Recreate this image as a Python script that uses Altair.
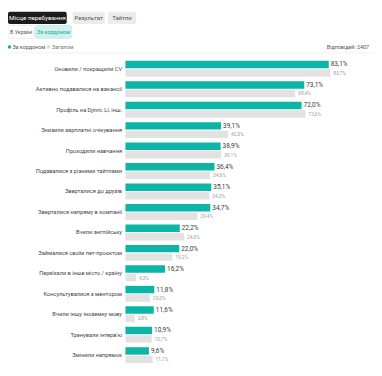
import altair as alt
import pandas as pd

categories = [
    "Оновили / покращили CV",
    "Активно подавалися на вакансії",
    "Профіль на Djinni, LI, інш.",
    "Знизили зарплатні очікування",
    "Проходили навчання",
    "Подавалися з різними тайтлами",
    "Зверталися до друзів",
    "Зверталися напряму в компанії",
    "Вчили англійську",
    "Займалися своїм пет-проєктом",
    "Переїхали в інше місто / країну",
    "Консультувалися з ментором",
    "Вчили іншу іноземну мову",
    "Тренували інтерв'ю",
    "Змінили напрямок",
]
abroad = [83.1, 73.1, 72.0, 39.1, 38.9, 36.4, 35.1, 34.7, 22.2, 22.0, 16.2, 11.8, 11.6, 10.9, 9.6]
overall = [83.7, 69.4, 73.6, 42.0, 39.1, 34.6, 34.3, 29.4, 24.0, 19.2, 4.3, 10.0, 3.8, 10.7, 11.1]
series_names = ["За кордоном", "Загалом"]
tabs = ["Місце перебування", "Результат", "Тайтли"]
subtabs = ["В Україні", "За кордоном"]
responses_text = "Відповідей: 2407"

TEAL = "#0db5a7"
GREY = "#e2e2e2"
FONT = "Roboto"

rows = []
for c, a, o in zip(categories, abroad, overall):
    rows.append({"cat": c, "series": series_names[0], "value": a})
    rows.append({"cat": c, "series": series_names[1], "value": o})
df = pd.DataFrame(rows)
df["label"] = df["value"].map(lambda v: f"{v:.1f}".replace(".", ",") + "%")

ysc = alt.Scale(domain=categories, paddingInner=0.22, paddingOuter=0)
yoff = alt.Scale(domain=series_names, paddingInner=0.12, paddingOuter=0)
xsc = alt.Scale(domain=[0, 100])

base = alt.Chart(df)
bars = base.mark_bar(cornerRadius=0).encode(
    y=alt.Y("cat:N", sort=categories, scale=ysc,
            axis=alt.Axis(title=None, domain=False, ticks=False, labelPadding=4,
                          labelFontSize=5.8, labelColor="#444", labelFont=FONT,
                          labelLimit=200, grid=False)),
    yOffset=alt.YOffset("series:N", scale=yoff, sort=series_names),
    x=alt.X("value:Q", scale=xsc, axis=None),
    color=alt.Color("series:N", scale=alt.Scale(domain=series_names, range=[TEAL, GREY]), legend=None),
)
lab1 = base.transform_filter(alt.datum.series == series_names[0]).mark_text(
    align="left", baseline="middle", dx=2, fontSize=6.6, font=FONT, color="#3a3a3a"
).encode(
    y=alt.Y("cat:N", sort=categories, scale=ysc),
    yOffset=alt.YOffset("series:N", scale=yoff, sort=series_names),
    x=alt.X("value:Q", scale=xsc),
    text="label:N",
)
lab2 = base.transform_filter(alt.datum.series == series_names[1]).mark_text(
    align="left", baseline="middle", dx=3, fontSize=5, font=FONT, color="#a0a0a0"
).encode(
    y=alt.Y("cat:N", sort=categories, scale=ysc),
    yOffset=alt.YOffset("series:N", scale=yoff, sort=series_names),
    x=alt.X("value:Q", scale=xsc),
    text="label:N",
)

one = alt.Data(values=[{}])


def box(x, x2, y, y2, fill, stroke=None):
    kw = dict(fill=fill, cornerRadius=2)
    if stroke:
        kw.update(stroke=stroke, strokeWidth=0.8)
    return alt.Chart(one).mark_rect(**kw).encode(
        x=alt.value(x), x2=alt.value(x2), y=alt.value(y), y2=alt.value(y2))


def txt(s, x, y, color, size=6, align="center", weight="normal"):
    return alt.Chart(one).mark_text(
        text=s, align=align, baseline="middle", fontSize=size, font=FONT,
        color=color, fontWeight=weight).encode(x=alt.value(x), y=alt.value(y))


def dot(x, y, color):
    return alt.Chart(one).mark_point(filled=True, size=12, shape="circle", color=color, opacity=1).encode(
        x=alt.value(x), y=alt.value(y))


header = [
    box(-120, -60, -50, -37.5, "#1c1c1c"),
    txt(tabs[0], -90, -43.7, "white", 6.4),
    box(-54, -21, -50, -37.5, "#ececec"),
    txt(tabs[1], -37.5, -43.7, "#555", 6.2),
    box(-18, 11, -50, -37.5, "#ececec"),
    txt(tabs[2], -3.5, -43.7, "#555", 6.2),
    box(-120, -93, -36, -23, "white", "#e6e6e6"),
    txt(subtabs[0], -106.5, -29.5, "#555", 5.5),
    box(-92, -55, -36, -23, "#d2f1ee", "#c2ebe6"),
    txt(subtabs[1], -73.5, -29.5, "#13a89c", 5.5),
    dot(-118.5, -14, TEAL),
    txt(series_names[0], -115.5, -14, "#555", 5.5, "left"),
    dot(-78.5, -14, "#dddddd"),
    txt(series_names[1], -75, -14, "#777", 5.5, "left"),
    txt(responses_text, 249, -14, "#555", 5.5, "right"),
    alt.Chart(one).mark_rule(color="#ececec", strokeWidth=0.8).encode(
        x=alt.value(-120), x2=alt.value(254), y=alt.value(-8)),
]

chart = alt.layer(bars, lab1, lab2, *header).properties(
    width=250, height=309,
    autosize=alt.AutoSizeParams(type="none"),
    padding={"left": 120, "top": 50, "right": 4, "bottom": 0},
    background="white",
).configure_view(strokeWidth=0)

chart.save("out.html", embed_options={"renderer": "svg", "actions": False})
